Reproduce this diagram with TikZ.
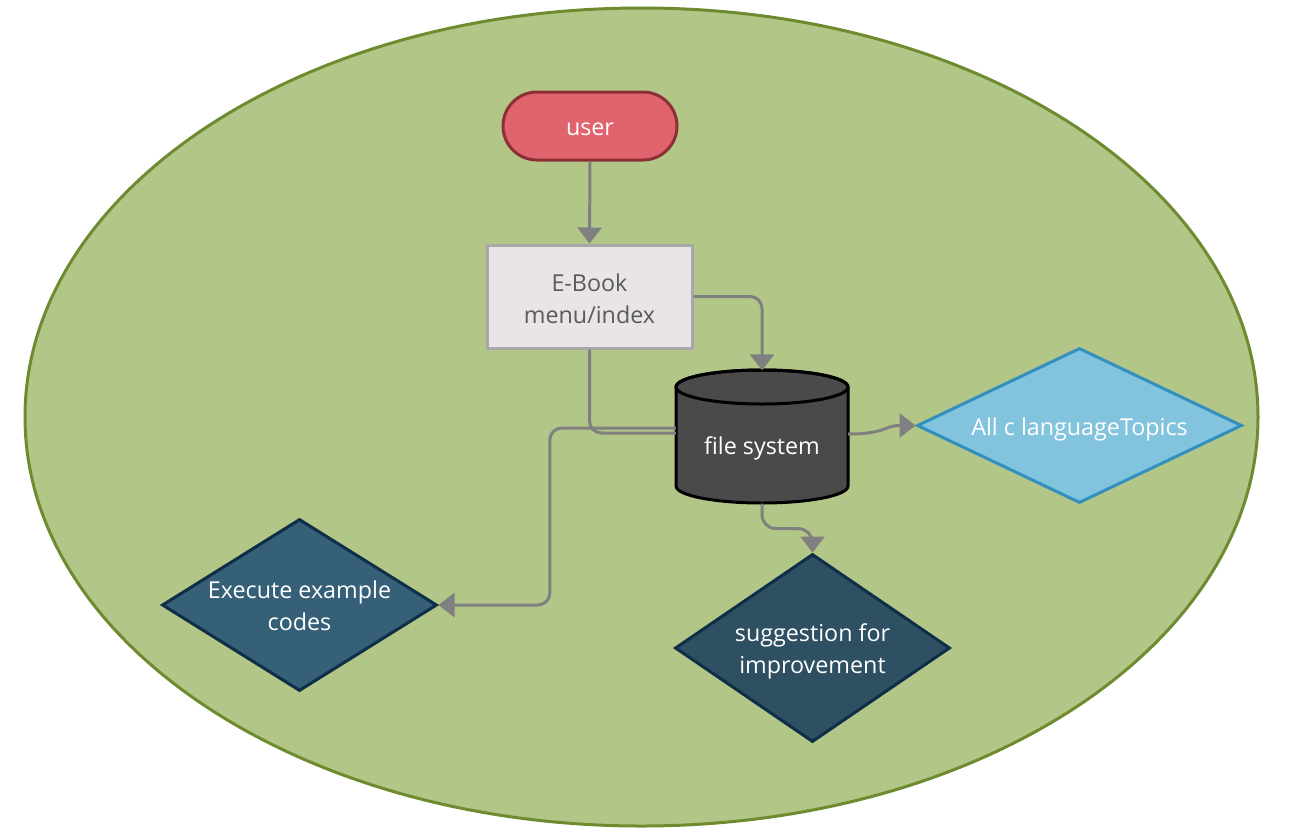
\documentclass[tikz,border=0pt]{standalone}
\usepackage{fontspec}
\setmainfont{Open Sans}
\usetikzlibrary{shapes.geometric,arrows.meta,calc}
\definecolor{bgfill}{HTML}{B2C687}
\definecolor{bgdraw}{HTML}{6E8B30}
\definecolor{userfill}{HTML}{E0646E}
\definecolor{userdraw}{HTML}{8C3036}
\definecolor{ebfill}{HTML}{E8E4E8}
\definecolor{ebdraw}{HTML}{A8A8A8}
\definecolor{ebtext}{HTML}{5A5A5A}
\definecolor{cylfill}{HTML}{4A4A4A}
\definecolor{tpfill}{HTML}{82C3DE}
\definecolor{tpdraw}{HTML}{3390BE}
\definecolor{exfill}{HTML}{366077}
\definecolor{sgfill}{HTML}{2F5063}
\definecolor{dkdraw}{HTML}{0F2E47}
\definecolor{conn}{HTML}{808080}
\begin{document}
\begin{tikzpicture}[x=1pt,y=-1pt,
  every node/.style={font=\fontsize{23.3}{32}\selectfont, align=center},
  conline/.style={draw=conn, line width=3pt, rounded corners=12pt},
  arr/.style={conline, -{Triangle[width=24pt,length=16pt]}},
  dia/.style={diamond, inner sep=0pt, line width=3pt},
  wtxt/.style={text=white, inner sep=0pt}]
\useasboundingbox (0,0) rectangle (1293,831);
\fill[white] (0,0) rectangle (1293,831);
% background ellipse
\draw[fill=bgfill, draw=bgdraw, line width=3pt] (641.5,417) ellipse [x radius=616.5pt, y radius=409pt];
% nodes
\node[draw=userdraw, fill=userfill, line width=3pt, rounded corners=34pt,
      minimum width=174pt, minimum height=68pt, inner sep=0pt] (us) at (590,126) {};
\node[wtxt] (ust) at ([yshift=-3pt]us.center) {user};
\node[draw=ebdraw, fill=ebfill, line width=3pt, minimum width=205pt, minimum height=103pt,
      inner sep=0pt] (eb) at (589.5,296.5) {};
\node[text=ebtext, inner sep=0pt] (ebt) at ([yshift=-2.5pt]eb.center) {E-Book\\menu/index};
\node[minimum width=172pt, minimum height=133pt, inner sep=0pt] (fs) at (762,437) {};
\draw[fill=cylfill, draw=black, line width=3pt]
  (676,387) -- (676,486) arc[start angle=180, end angle=360, x radius=86pt, y radius=17pt]
  -- (848,387) arc[start angle=0, end angle=180, x radius=86pt, y radius=17pt] -- cycle;
\draw[draw=black, line width=3pt] (762,387) ellipse [x radius=86pt, y radius=17pt];
\node[wtxt] (fst) at ([yshift=-11pt]fs.center) {file system};
\node[dia, draw=tpdraw, fill=tpfill, minimum width=325pt, minimum height=155pt] (tp) at (1079.5,425.5) {};
\node[wtxt] (tpt) at ([yshift=-3.5pt]tp.center) {All c languageTopics};
\node[dia, draw=dkdraw, fill=exfill, minimum width=275pt, minimum height=172pt] (ex) at (299.5,605) {};
\node[wtxt] (ext) at ([yshift=-1pt]ex.center) {Execute example\\codes};
\node[dia, draw=dkdraw, fill=sgfill, minimum width=275pt, minimum height=188pt] (sg) at (812.5,648) {};
\node[wtxt] (sgt) at ([yshift=-3.5pt]sg.center) {suggestion for\\improvement};
% connectors
\draw[arr] (us.south) -- (eb.north);
\draw[arr] (eb.east) -| (fs.north);
\draw[conline] (eb.south) |- ([yshift=4pt]fs.west);
\draw[arr] ([yshift=9pt]fs.west) -- ++(-126,0) |- (ex.east);
\draw[arr, rounded corners=0pt] ([yshift=3pt]fs.east) .. controls +(38,0) and +(-32,0) .. (tp.west);
\draw[arr, rounded corners=14pt] (fs.south) -- ++(0,25) -| (sg.north);
\end{tikzpicture}
\end{document}
